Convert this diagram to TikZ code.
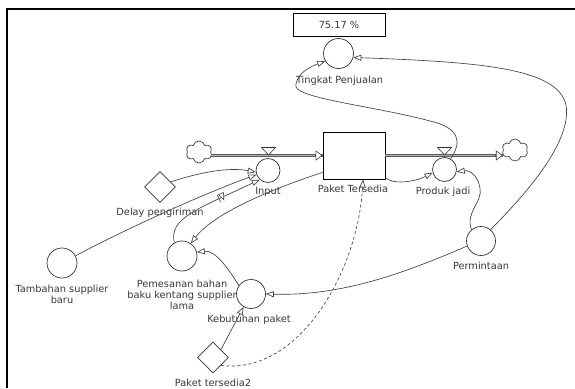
\documentclass[tikz,border=0pt]{standalone}
\usepackage{fontspec}
\setmainfont{DejaVu Sans}
\usetikzlibrary{arrows.meta,shapes.geometric,shapes.symbols,decorations.markings}
\begin{document}
\begin{tikzpicture}[x=1pt,y=-1pt,
  lbl/.style={font=\fontsize{9.8}{11}\selectfont, text=black!78, inner sep=0pt, align=center},
  aux/.style={circle, draw=black!80, line width=0.7pt, minimum size=30pt, inner sep=0pt},
  flowc/.style={aux, minimum size=24pt},
  cst/.style={diamond, draw=black!80, line width=0.7pt, minimum width=31pt, minimum height=31pt, inner sep=0pt},
  link/.style={draw=black!75, line width=0.65pt, -{Triangle[length=8pt,width=6pt,fill=white]}},
  pipe/.style={draw=black!65, double=black!30, double distance=1.6pt, line width=0.7pt},
  pipearrow/.style={draw=black!75, line width=0.6pt, -{Triangle[length=7pt,width=10pt,fill=white]}},
  valvetri/.style={draw=black!80, line width=0.6pt, fill=white},
  cloudn/.style={cloud, cloud puffs=6, aspect=1.2, draw=black!75, line width=0.7pt, minimum width=26pt, minimum height=22pt, inner sep=0pt},
  delaymark/.style={postaction={decorate, decoration={markings, mark=at position #1 with {\draw[black!75, line width=0.6pt] (-2,-4) -- (-2,4) (2,-4) -- (2,4);}}}}
]
\useasboundingbox (0,0) rectangle (575,388);
\fill[white] (0,0) rectangle (575,388);
% frame
\draw[line width=2pt, black] (7,388) -- (7,9) -- (575,9);

% value box and Tingkat Penjualan
\node[draw=black, line width=0.8pt, minimum width=92pt, minimum height=23pt, inner sep=0pt, font=\fontsize{9.8}{11}\selectfont, text=black!78] (val) at (339,24.5) {75.17 \%};
\node[aux] (ting) at (338.5,53.5) {};
\node[lbl] (tingL) at (339.5,81) {Tingkat Penjualan};

% stock and clouds
\node[draw=black, line width=0.8pt, minimum width=62pt, minimum height=47pt, inner sep=0pt] (stock) at (354,155.5) {};
\node[lbl] (stockL) at (353,188.5) {Paket Tersedia};
\node[cloudn] (cloudL) at (199,152) {};
\node[cloudn] (cloudR) at (515,150) {};
\coordinate (pL) at (cloudL.east |- stock.west);
\coordinate (pR) at (cloudR.west |- stock.east);

% pipes
\draw[pipe] (pL) -- (stock.west);
\draw[pipe] (stock.east) -- (pR);
\draw[pipearrow] ([xshift=-8pt]stock.west) -- (stock.west);
\draw[pipearrow] ([xshift=-8pt]pR) -- (pR);

% flows
\node[flowc] (input) at (268,170.5) {};
\node[lbl] (inputL) at (268,192) {Input};
\draw[valvetri] (261.5,147.5) -- (275.5,147.5) -- (268.5,155) -- cycle;
\node[flowc] (prod) at (444.5,169.5) {};
\node[lbl] (prodL) at (443,192) {Produk jadi};
\draw[valvetri] (437.5,147.5) -- (451.5,147.5) -- (444.5,155) -- cycle;

% auxiliaries and constants
\node[cst] (delay) at (160,187) {};
\node[lbl] (delayL) at (160,213) {Delay pengiriman};
\node[aux] (tamb) at (62,263) {};
\node[lbl] (tambL) at (62,294.5) {Tambahan supplier\\baru};
\node[aux] (pem) at (182,256) {};
\node[lbl] (pemL) at (182,294.5) {Pemesanan bahan\\baku kentang supplier\\lama};
\node[aux, minimum size=29pt] (keb) at (251,294) {};
\node[lbl] (kebL) at (249,320) {Kebutuhan paket};
\node[cst] (pk2) at (213,357.5) {};
\node[lbl] (pk2L) at (213,382.5) {Paket tersedia2};
\node[aux, minimum size=29pt] (perm) at (481,241) {};
\node[lbl] (permL) at (481,266) {Permintaan};

% links
\draw[link] (delay.25) .. controls (200,172) and (230,167) .. (input.188);
\draw[link] (tamb.28) .. controls (120,232) and (200,195) .. (input.200);
\draw[link, delaymark=0.62] (pem.120) .. controls (168,218) and (200,208) .. (input.228);
\draw[link] ([yshift=7pt]stock.south west) .. controls (275,188) and (215,212) .. (pem.55);
\draw[link] (keb.145) .. controls (228,268) and (215,250) .. (pem.15);
\draw[link] (perm.200) .. controls (400,275) and (340,296) .. (keb.east);
\draw[link] (pk2.north east) -- (keb.240);
\draw[link, dash pattern=on 3pt off 2.5pt] (pk2.south east) .. controls (300,375) and (358,270) .. ([xshift=9pt]stock.south);
\draw[link] ([yshift=2pt]stock.south east) .. controls (392,185) and (415,182) .. (prod.195);
\draw[link] (perm.130) .. controls (465,212) and (483,202) .. (480,188) .. controls (478,176) and (470,170) .. (prod.-10);
\draw[link] (perm.50) .. controls (530,190) and (572,140) .. (566,105) .. controls (558,68) and (480,62) .. (ting.-15);
\draw[link] (prod.60) .. controls (462,142) and (460,128) .. (430,121) .. controls (370,105) and (290,98) .. (296,84) .. controls (298,72) and (312,66) .. (ting.210);
\end{tikzpicture}
\end{document}
